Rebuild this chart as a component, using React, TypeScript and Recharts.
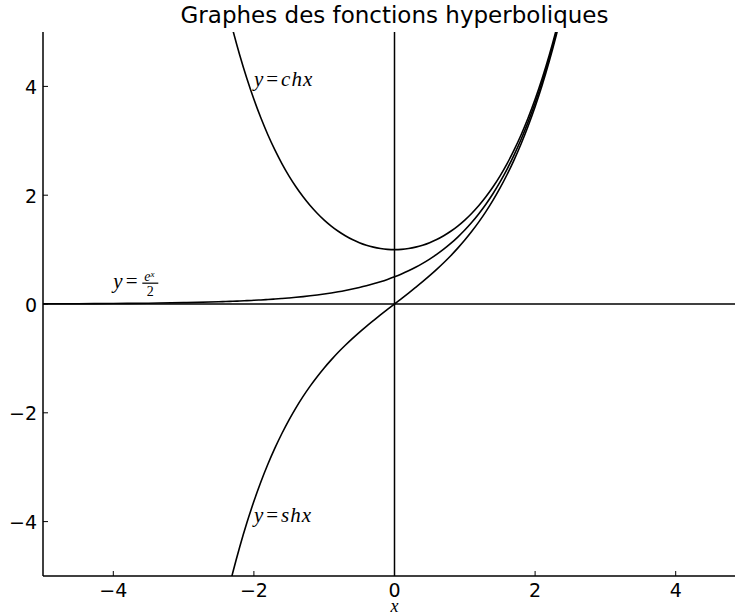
import { Line, LineChart, ReferenceDot, ReferenceLine, XAxis, YAxis } from "recharts";

// sample points: coarse on the flat left tail, 0.1 steps where the curves bend
const xValues = [
  -5, -4.5, -4, -3.5, -3, -2.5,
  -2.4, -2.3, -2.2, -2.1, -2.0, -1.9, -1.8, -1.7, -1.6, -1.5, -1.4, -1.3, -1.2, -1.1, -1.0,
  -0.9, -0.8, -0.7, -0.6, -0.5, -0.4, -0.3, -0.2, -0.1, 0,
  0.1, 0.2, 0.3, 0.4, 0.5, 0.6, 0.7, 0.8, 0.9, 1.0,
  1.1, 1.2, 1.3, 1.4, 1.5, 1.6, 1.7, 1.8, 1.9, 2.0, 2.1, 2.2, 2.3, 2.4,
];

const chValues = [
  null, null, null, null, null, null,
  5.557, 5.037, 4.568, 4.144, 3.762, 3.418, 3.107, 2.828, 2.577, 2.352, 2.151, 1.971, 1.811, 1.669, 1.543,
  1.433, 1.337, 1.255, 1.185, 1.128, 1.081, 1.045, 1.020, 1.005, 1,
  1.005, 1.020, 1.045, 1.081, 1.128, 1.185, 1.255, 1.337, 1.433, 1.543,
  1.669, 1.811, 1.971, 2.151, 2.352, 2.577, 2.828, 3.107, 3.418, 3.762, 4.144, 4.568, 5.037, 5.557,
];

const shValues = [
  null, null, null, null, null, null,
  -5.466, -4.937, -4.457, -4.022, -3.627, -3.268, -2.942, -2.646, -2.376, -2.129, -1.904, -1.698, -1.509, -1.336, -1.175,
  -1.027, -0.888, -0.759, -0.637, -0.521, -0.411, -0.305, -0.201, -0.100, 0,
  0.100, 0.201, 0.305, 0.411, 0.521, 0.637, 0.759, 0.888, 1.027, 1.175,
  1.336, 1.509, 1.698, 1.904, 2.129, 2.376, 2.646, 2.942, 3.268, 3.627, 4.022, 4.457, 4.937, 5.466,
];

const halfExpValues = [
  0.00337, 0.00555, 0.00916, 0.0151, 0.02489, 0.04104,
  0.04536, 0.05013, 0.0554, 0.06123, 0.06767, 0.07478, 0.08265, 0.09134, 0.10095, 0.11157, 0.1233, 0.13627, 0.1506, 0.16644, 0.18394,
  0.20329, 0.22466, 0.24829, 0.27441, 0.30327, 0.33516, 0.37041, 0.40937, 0.45242, 0.5,
  0.55259, 0.6107, 0.67493, 0.74591, 0.82436, 0.91106, 1.00688, 1.11277, 1.2298, 1.35914,
  1.50209, 1.66006, 1.83465, 2.0276, 2.24085, 2.47652, 2.73698, 3.02483, 3.34295, 3.69453, 4.08309, 4.51251, 4.98709, 5.51159,
];

const xTicks = [-4, -2, 0, 2, 4];
const yTicks = [-4, -2, 0, 2, 4];

const data = xValues.map((x, i) => ({
  x,
  ch: chValues[i],
  sh: shValues[i],
  halfExp: halfExpValues[i],
}));

const tickFont = "'DejaVu Sans', sans-serif";
const mathFont = "'Liberation Serif', 'DejaVu Serif', serif";

const fmt = (v: number) => (v < 0 ? `\u2212${Math.abs(v)}` : `${v}`);

// ticks point inward, matplotlib style
const BottomTick = (props: any) => {
  const { x, y, payload } = props;
  return (
    <g>
      <line x1={x} x2={x} y1={y} y2={y - 5} stroke="#000" strokeWidth={1} />
      <text x={x} y={y + 21} textAnchor="middle" fontFamily={tickFont} fontSize={19} fill="#000">
        {fmt(payload.value)}
      </text>
    </g>
  );
};

const TopTick = (props: any) => {
  const { x, y } = props;
  return <line x1={x} x2={x} y1={y} y2={y + 5} stroke="#000" strokeWidth={1} />;
};

const LeftTick = (props: any) => {
  const { x, y, payload } = props;
  return (
    <g>
      <line x1={x} x2={x + 5} y1={y} y2={y} stroke="#000" strokeWidth={1} />
      <text x={x - 6} y={y + 7.5} textAnchor="end" fontFamily={tickFont} fontSize={19} fill="#000">
        {fmt(payload.value)}
      </text>
    </g>
  );
};

const simpleLabel = (name: string) => (props: any) => (
  <text x={props.cx} y={props.cy} fontFamily={mathFont} fontSize={21} fill="#000">
    <tspan fontStyle="italic">y</tspan>
    <tspan dx={3}>=</tspan>
    <tspan dx={3} fontStyle="italic" letterSpacing={1}>{name}</tspan>
  </text>
);

const FractionLabel = (props: any) => {
  const { cx, cy } = props;
  return (
    <g fill="#000" fontFamily={mathFont}>
      <text x={cx} y={cy} fontSize={21}>
        <tspan fontStyle="italic">y</tspan>
        <tspan dx={3}>=</tspan>
      </text>
      <text x={cx + 31} y={cy - 7} fontSize={14} fontStyle="italic">
        e
        <tspan fontSize={9} dy={-4}>x</tspan>
      </text>
      <line x1={cx + 29} x2={cx + 45} y1={cy - 4.5} y2={cy - 4.5} stroke="#000" strokeWidth={1.2} />
      <text x={cx + 37} y={cy + 8} fontSize={14} textAnchor="middle">2</text>
    </g>
  );
};

const spine = { stroke: "#000", strokeWidth: 1.5 };

export default function App() {
  return (
    <div style={{ position: "absolute", left: 0, top: 0, width: 735, height: 613, overflow: "hidden", background: "#fff" }}>
      <style>{"html,body{margin:0;overflow:hidden}"}</style>
      <div
        style={{
          position: "absolute",
          left: 43,
          width: 703,
          top: 4,
          textAlign: "center",
          fontFamily: tickFont,
          fontSize: 23,
          lineHeight: "23px",
          color: "#000",
        }}
      >
        Graphes des fonctions hyperboliques
      </div>
      <LineChart width={746} height={613} data={data} margin={{ top: 32, right: 0, bottom: 0, left: 0 }}>
        <XAxis
          dataKey="x"
          type="number"
          domain={[-5, 5]}
          ticks={xTicks}
          interval={0}
          allowDataOverflow
          height={37}
          tickSize={0}
          tickMargin={0}
          axisLine={spine}
          tick={BottomTick}
          label={{
            value: "x",
            position: "insideBottom",
            offset: 1,
            style: { fontFamily: mathFont, fontStyle: "italic", fontSize: 18, fill: "#000" },
          }}
        />
        <XAxis
          xAxisId="top"
          orientation="top"
          dataKey="x"
          type="number"
          domain={[-5, 5]}
          ticks={xTicks}
          interval={0}
          allowDataOverflow
          height={0}
          tickSize={0}
          tickMargin={0}
          axisLine={spine}
          tick={TopTick}
        />
        <YAxis
          type="number"
          domain={[-5, 5]}
          ticks={yTicks}
          interval={0}
          allowDataOverflow
          width={43}
          tickSize={0}
          tickMargin={0}
          axisLine={spine}
          tick={LeftTick}
        />
        <ReferenceLine x={0} stroke="#000" strokeWidth={1.5} />
        <ReferenceLine y={0} stroke="#000" strokeWidth={1.5} />
        <Line dataKey="ch" type="monotoneX" stroke="#000" strokeWidth={1.6} dot={false} isAnimationActive={false} />
        <Line dataKey="sh" type="monotoneX" stroke="#000" strokeWidth={1.6} dot={false} isAnimationActive={false} />
        <Line dataKey="halfExp" type="monotoneX" stroke="#000" strokeWidth={1.6} dot={false} isAnimationActive={false} />
        <ReferenceDot x={-2} y={4} r={0} shape={simpleLabel("chx")} />
        <ReferenceDot x={-2} y={-4} r={0} shape={simpleLabel("shx")} />
        <ReferenceDot x={-4} y={0.3} r={0} shape={FractionLabel} />
      </LineChart>
    </div>
  );
}
